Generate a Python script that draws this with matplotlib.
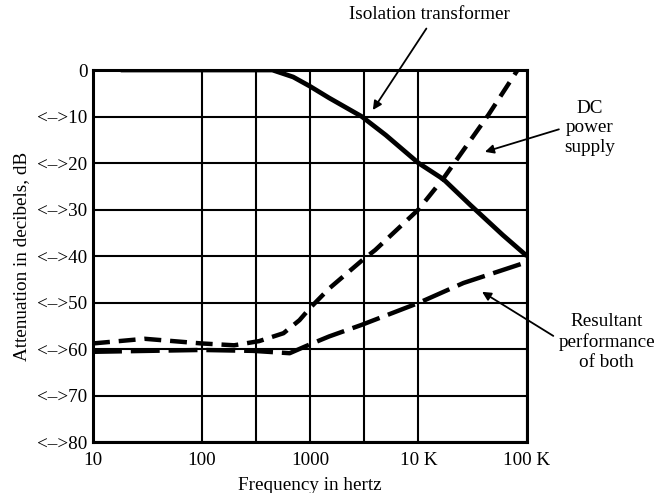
import matplotlib.pyplot as plt
from matplotlib.ticker import FixedLocator, NullFormatter

plt.rcParams['font.family'] = ['Liberation Serif', 'DejaVu Serif']

# Isolation transformer attenuation (solid)
iso_freq = [18, 100, 450, 700, 1000, 1500, 3000, 5000, 10000, 17000, 30000, 60000, 100000]
iso_db = [0, 0, 0, -1.5, -3.5, -6, -10, -14, -20, -23.5, -29, -35.5, -40]

# DC power supply attenuation (short dashes)
dc_freq = [10, 30, 100, 200, 340, 570, 800, 1000, 1500, 3000, 4000, 10000, 17000, 44000, 82000]
dc_db = [-58.8, -57.8, -58.8, -59.2, -58.3, -56.6, -53.8, -51.2, -47, -41, -38.7, -30, -23.3, -9.7, 0]

# Resultant performance of both (long dashes)
res_freq = [10, 100, 300, 650, 1000, 1500, 3000, 10000, 26000, 100000]
res_db = [-60.6, -60.2, -60.4, -60.9, -59, -57.3, -54.8, -50.1, -45.8, -41.3]

x_ticks = [10, 100, 1000, 10000, 100000]
x_labels = ['10', '100', '1000', '10 K', '100 K']
x_extra_grid = [316, 3160]
y_ticks = [0, -10, -20, -30, -40, -50, -60, -70, -80]
y_labels = ['0'] + ['<\u2013>%d' % abs(v) for v in y_ticks[1:]]

FS = 13.8

fig = plt.figure(figsize=(6.57, 4.93), dpi=100)
ax = fig.add_axes([0.1416, 0.1034, 0.6604, 0.7546])

ax.plot(iso_freq, iso_db, color='black', lw=3.4, solid_capstyle='butt')
ax.plot(dc_freq, dc_db, color='black', lw=3.2, dashes=(3.8, 2.0))
ax.plot(res_freq, res_db, color='black', lw=3.2, dashes=(6.5, 2.0))

ax.set_xscale('log')
ax.set_xlim(10, 100000)
ax.set_ylim(-80, 0)
ax.xaxis.set_major_locator(FixedLocator(x_ticks))
ax.set_xticklabels(x_labels)
ax.xaxis.set_minor_locator(FixedLocator(x_extra_grid))
ax.xaxis.set_minor_formatter(NullFormatter())
ax.set_yticks(y_ticks)
ax.set_yticklabels(y_labels)
ax.tick_params(which='both', length=0, labelsize=FS, colors='black')
ax.tick_params(axis='x', pad=7)
ax.tick_params(axis='y', pad=4)

ax.grid(True, which='both', color='black', lw=1.5)
ax.set_axisbelow(True)
for side in ax.spines.values():
    side.set_linewidth(2.2)

ax.set_xlabel('Frequency in hertz', fontsize=FS, labelpad=6)
ax.set_ylabel('Attenuation in decibels, dB', fontsize=FS, labelpad=5)

arrow = dict(arrowstyle='-|>', color='black', lw=1.3, mutation_scale=13, shrinkA=2, shrinkB=0)
ax.annotate('Isolation transformer', xy=(3800, -8.6), xytext=(0.776, 1.148),
            textcoords='axes fraction', ha='center', va='center', fontsize=FS,
            arrowprops=dict(arrow, relpos=(0.5, 0.0)))
ax.annotate('DC\npower\nsupply', xy=(41000, -17.6), xytext=(1.145, 0.845),
            textcoords='axes fraction', ha='center', va='center', fontsize=FS,
            linespacing=1.2, arrowprops=dict(arrow, relpos=(0.0, 0.5)))
ax.annotate('Resultant\nperformance\nof both', xy=(38600, -47.7), xytext=(1.184, 0.269),
            textcoords='axes fraction', ha='center', va='center', fontsize=FS,
            linespacing=1.2, arrowprops=dict(arrow, relpos=(0.0, 0.55)))

fig.savefig('out.png', dpi=100)
